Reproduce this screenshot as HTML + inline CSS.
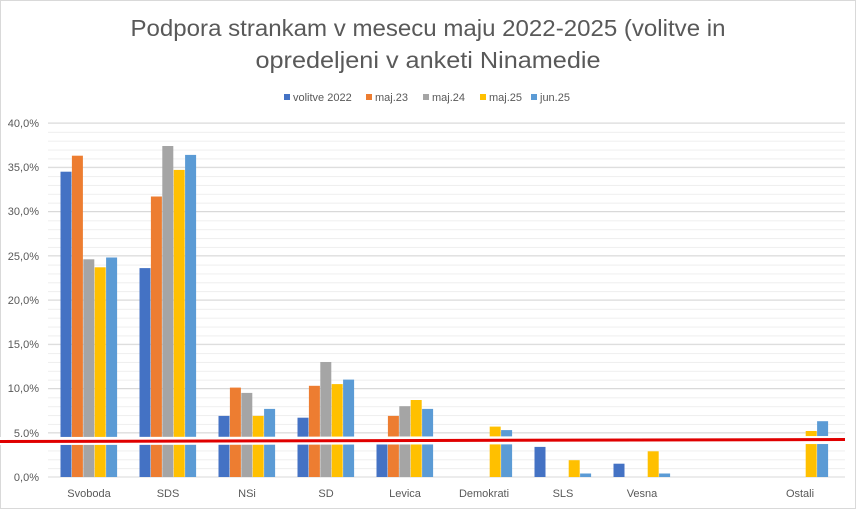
<!DOCTYPE html>
<html><head><meta charset="utf-8"><style>
html,body{margin:0;padding:0;background:#fff;}
svg{display:block;font-family:"Liberation Sans",sans-serif;}
</style></head><body>
<svg width="856" height="509" viewBox="0 0 856 509" xmlns="http://www.w3.org/2000/svg">
<defs>
<pattern id="minor" patternUnits="userSpaceOnUse" x="0" y="123" width="856" height="8.85">
<line x1="0" y1="0.5" x2="856" y2="0.5" stroke="#eeeeee" stroke-width="1"/>
</pattern>
</defs>
<rect x="0" y="0" width="856" height="509" fill="#fff"/>
<rect x="0.5" y="0.5" width="855" height="508" fill="none" stroke="#d9d9d9"/>
<text x="428" y="36" font-size="23" fill="#595959" text-anchor="middle" textLength="595" lengthAdjust="spacingAndGlyphs">Podpora strankam v mesecu maju 2022-2025 (volitve in</text>
<text x="428" y="68" font-size="23" fill="#595959" text-anchor="middle" textLength="345" lengthAdjust="spacingAndGlyphs">opredeljeni v anketi Ninamedie</text>
<g font-size="11" fill="#595959">
<rect x="284" y="94" width="6" height="6" fill="#4472C4"/><text x="293" y="101">volitve 2022</text>
<rect x="366" y="94" width="6" height="6" fill="#ED7D31"/><text x="375" y="101">maj.23</text>
<rect x="423" y="94" width="6" height="6" fill="#A5A5A5"/><text x="432" y="101">maj.24</text>
<rect x="480" y="94" width="6" height="6" fill="#FFC000"/><text x="489" y="101">maj.25</text>
<rect x="531" y="94" width="6" height="6" fill="#5B9BD5"/><text x="540" y="101">jun.25</text>
</g>
<rect x="48" y="123" width="797" height="354" fill="url(#minor)"/>
<g stroke="#d9d9d9" stroke-width="1">
<line x1="48" y1="123" x2="845" y2="123"/><line x1="48" y1="167.25" x2="845" y2="167.25"/>
<line x1="48" y1="211.5" x2="845" y2="211.5"/><line x1="48" y1="255.75" x2="845" y2="255.75"/>
<line x1="48" y1="300" x2="845" y2="300"/><line x1="48" y1="344.25" x2="845" y2="344.25"/>
<line x1="48" y1="388.5" x2="845" y2="388.5"/><line x1="48" y1="432.75" x2="845" y2="432.75"/>
<line x1="48" y1="477" x2="845" y2="477"/>
</g>
<g font-size="11" fill="#595959" text-anchor="end">
<text x="39" y="127">40,0%</text><text x="39" y="171">35,0%</text><text x="39" y="215">30,0%</text>
<text x="39" y="260">25,0%</text><text x="39" y="304">20,0%</text><text x="39" y="348">15,0%</text>
<text x="39" y="392">10,0%</text><text x="39" y="437">5,0%</text><text x="39" y="481">0,0%</text>
</g>
<g>
<!-- Svoboda -->
<rect x="60.5" y="171.7" width="11" height="305.3" fill="#4472C4"/>
<rect x="71.9" y="155.7" width="11" height="321.3" fill="#ED7D31"/>
<rect x="83.3" y="259.3" width="11" height="217.7" fill="#A5A5A5"/>
<rect x="94.7" y="267.3" width="11" height="209.7" fill="#FFC000"/>
<rect x="106.1" y="257.5" width="11" height="219.5" fill="#5B9BD5"/>
<!-- SDS -->
<rect x="139.5" y="268.1" width="11" height="208.9" fill="#4472C4"/>
<rect x="150.9" y="196.5" width="11" height="280.5" fill="#ED7D31"/>
<rect x="162.3" y="146" width="11" height="331" fill="#A5A5A5"/>
<rect x="173.7" y="169.9" width="11" height="307.1" fill="#FFC000"/>
<rect x="185.1" y="154.9" width="11" height="322.1" fill="#5B9BD5"/>
<!-- NSi -->
<rect x="218.5" y="415.9" width="11" height="61.1" fill="#4472C4"/>
<rect x="229.9" y="387.6" width="11" height="89.4" fill="#ED7D31"/>
<rect x="241.3" y="392.9" width="11" height="84.1" fill="#A5A5A5"/>
<rect x="252.7" y="415.9" width="11" height="61.1" fill="#FFC000"/>
<rect x="264.1" y="408.9" width="11" height="68.1" fill="#5B9BD5"/>
<!-- SD -->
<rect x="297.5" y="417.7" width="11" height="59.3" fill="#4472C4"/>
<rect x="308.9" y="385.8" width="11" height="91.2" fill="#ED7D31"/>
<rect x="320.3" y="362" width="11" height="115" fill="#A5A5A5"/>
<rect x="331.7" y="384.1" width="11" height="92.9" fill="#FFC000"/>
<rect x="343.1" y="379.6" width="11" height="97.4" fill="#5B9BD5"/>
<!-- Levica -->
<rect x="376.5" y="439" width="11" height="38" fill="#4472C4"/>
<rect x="387.9" y="415.9" width="11" height="61.1" fill="#ED7D31"/>
<rect x="399.3" y="406.2" width="11" height="70.8" fill="#A5A5A5"/>
<rect x="410.7" y="400" width="11" height="77" fill="#FFC000"/>
<rect x="422.1" y="408.9" width="11" height="68.1" fill="#5B9BD5"/>
<!-- Demokrati -->
<rect x="489.7" y="426.6" width="11" height="50.4" fill="#FFC000"/>
<rect x="501.1" y="430.1" width="11" height="46.9" fill="#5B9BD5"/>
<!-- SLS -->
<rect x="534.5" y="446.9" width="11" height="30.1" fill="#4472C4"/>
<rect x="568.7" y="460.2" width="11" height="16.8" fill="#FFC000"/>
<rect x="580.1" y="473.5" width="11" height="3.5" fill="#5B9BD5"/>
<!-- Vesna -->
<rect x="613.5" y="463.7" width="11" height="13.3" fill="#4472C4"/>
<rect x="647.7" y="451.3" width="11" height="25.7" fill="#FFC000"/>
<rect x="659.1" y="473.5" width="11" height="3.5" fill="#5B9BD5"/>
<!-- Ostali -->
<rect x="805.7" y="431" width="11" height="46" fill="#FFC000"/>
<rect x="817.1" y="421.2" width="11" height="55.8" fill="#5B9BD5"/>
</g>
<line x1="0" y1="441" x2="845" y2="440" stroke="#fff" stroke-width="8"/>
<line x1="0" y1="441.5" x2="845" y2="439.5" stroke="#E00000" stroke-width="3"/>
<g font-size="11" fill="#595959" text-anchor="middle">
<text x="89" y="497">Svoboda</text><text x="168" y="497">SDS</text><text x="247" y="497">NSi</text>
<text x="326" y="497">SD</text><text x="405" y="497">Levica</text><text x="484" y="497">Demokrati</text>
<text x="563" y="497">SLS</text><text x="642" y="497">Vesna</text><text x="800" y="497">Ostali</text>
</g>
</svg>
</body></html>
